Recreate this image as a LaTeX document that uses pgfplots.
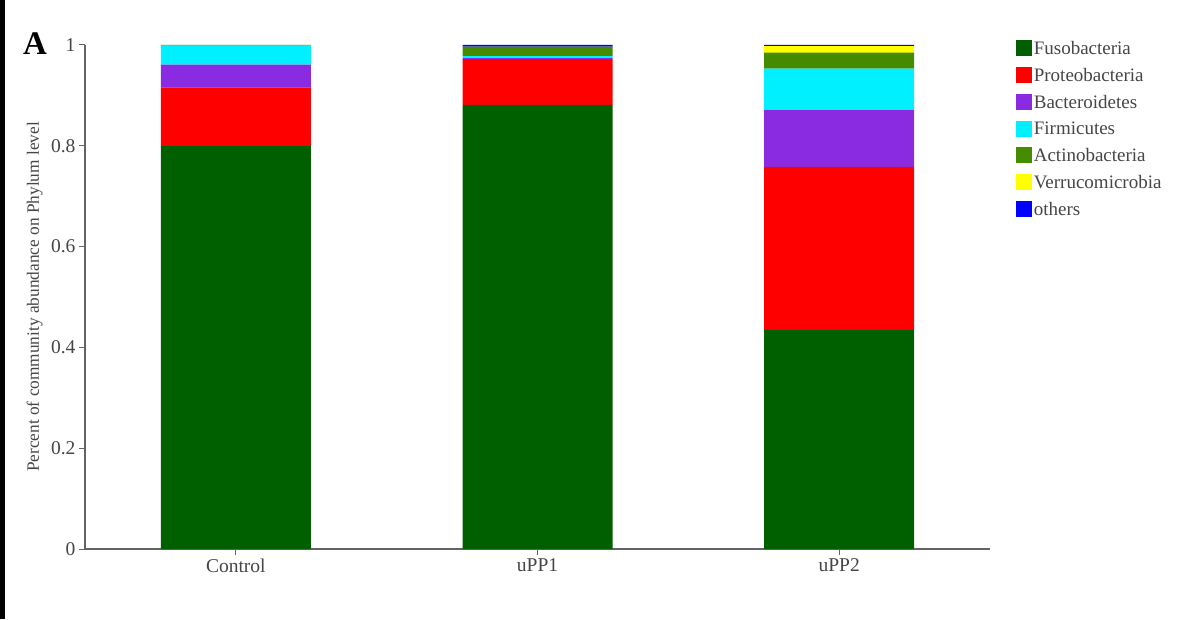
\documentclass[border=0pt]{standalone}
\usepackage{fontspec}
\setmainfont{Liberation Serif}
\usepackage{pgfplots}
\pgfplotsset{compat=1.18}

\definecolor{fuso}{RGB}{0,96,0}
\definecolor{proteo}{RGB}{255,0,0}
\definecolor{bactero}{RGB}{138,43,226}
\definecolor{firmi}{RGB}{0,240,255}
\definecolor{actino}{RGB}{69,139,0}
\definecolor{verru}{RGB}{255,255,0}
\definecolor{others}{RGB}{0,0,255}
\definecolor{axisgray}{RGB}{100,100,100}
\definecolor{labelgray}{RGB}{70,70,70}

\begin{document}
\begin{tikzpicture}[x=1pt,y=1pt]
\path[use as bounding box] (0,0) rectangle (1177,619);
\fill[white] (0,0) rectangle (1177,619);
\fill[black] (0,0) rectangle (5,619);
\node[font=\fontsize{33}{36}\selectfont\bfseries] at (35,575) {A};

\begin{axis}[
	at={(85pt,70pt)},
	anchor=south west,
	scale only axis,
	width=905pt,
	height=504pt,
	ybar stacked,
	bar width=150pt,
	xmin=-0.5, xmax=2.5,
	ymin=0, ymax=1,
	enlargelimits=false,
	axis x line*=bottom,
	axis y line*=left,
	axis line style={axisgray, line width=1.2pt},
	tick style={axisgray, line width=1pt},
	tick align=outside,
	major tick length=6pt,
	xtick={0,1,2},
	xticklabels={Control,uPP1,uPP2},
	ytick={0,0.2,0.4,0.6,0.8,1},
	yticklabels={0,0.2,0.4,0.6,0.8,1},
	tick label style={font=\fontsize{19.5}{23}\selectfont, text=labelgray},
	/pgf/number format/assume math mode=true,
	ylabel={Percent of community abundance on Phylum level},
	ylabel style={font=\fontsize{17.3}{20}\selectfont, text=labelgray, anchor=center, at={(axis description cs:-0.0555,0.5)}},
	legend style={
		at={(1.025,1.015)}, anchor=north west, draw=none, fill=none,
		font=\fontsize{19}{23}\selectfont, text=labelgray,
		row sep=8.2pt, cells={anchor=west},
	},
	legend image code/.code={\fill[#1] (0pt,-7.5pt) rectangle (16pt,8.5pt);},
	every axis plot/.append style={draw=none},
]

\addplot[fill=fuso] coordinates {(0,0.800) (1,0.881) (2,0.435)};
\addlegendentry{Fusobacteria}
\addplot[fill=proteo] coordinates {(0,0.116) (1,0.091) (2,0.323)};
\addlegendentry{Proteobacteria}
\addplot[fill=bactero] coordinates {(0,0.045) (1,0.002) (2,0.113)};
\addlegendentry{Bacteroidetes}
\addplot[fill=firmi] coordinates {(0,0.038) (1,0.004) (2,0.082)};
\addlegendentry{Firmicutes}
\addplot[fill=actino] coordinates {(0,0.001) (1,0.019) (2,0.032)};
\addlegendentry{Actinobacteria}
\addplot[fill=verru] coordinates {(0,0.000) (1,0.000) (2,0.013)};
\addlegendentry{Verrucomicrobia}
\addplot[fill=others] coordinates {(0,0.000) (1,0.003) (2,0.002)};
\addlegendentry{others}

\end{axis}
\end{tikzpicture}
\end{document}
